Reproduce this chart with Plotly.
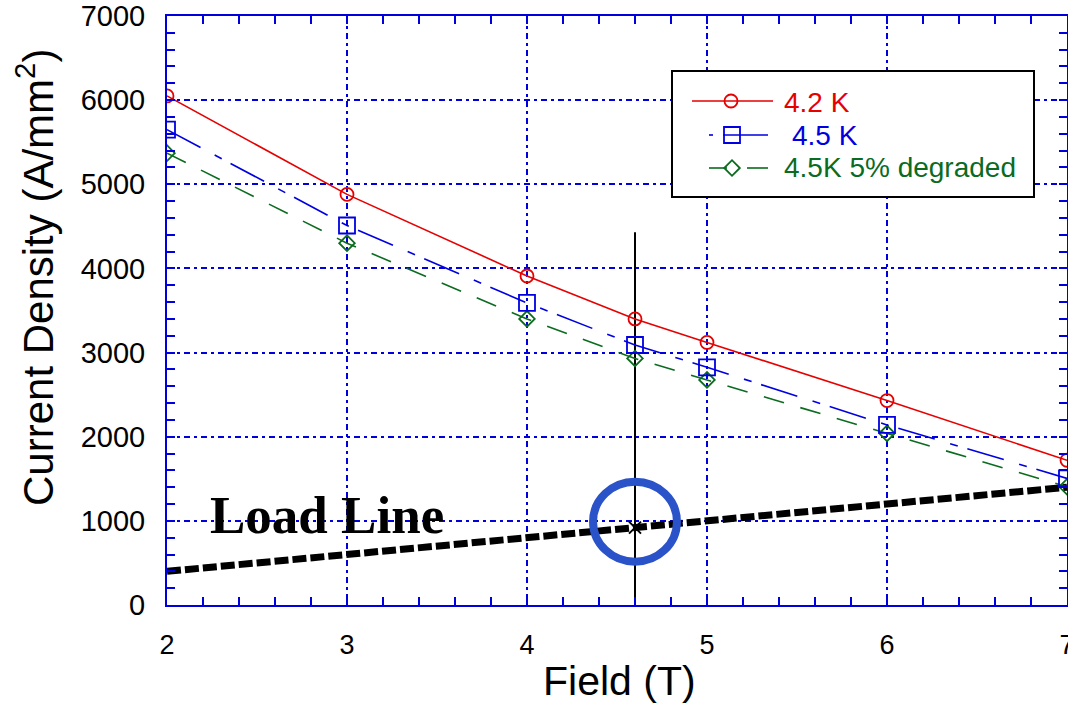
import plotly.graph_objects as go

W, H = 1068, 706

# Critical current density vs field for the conductor
field = [2, 3, 4, 4.6, 5, 6, 7]
jc_42k = [6050, 4880, 3910, 3400, 3120, 2430, 1720]
jc_45k = [5650, 4510, 3590, 3090, 2825, 2140, 1505]
jc_45k_degraded = [5370, 4300, 3400, 2930, 2675, 2040, 1405]

# Magnet load line and operating point
load_field = [2, 3, 4, 5, 6, 7]
load_jc = [400, 600, 800, 1000, 1200, 1400]
op_field = 4.6
op_jc = 920
op_marker_top = 4430

x_ticks = [2, 3, 4, 5, 6, 7]
y_ticks = [0, 1000, 2000, 3000, 4000, 5000, 6000, 7000]

series_names = ["4.2 K", "4.5 K", "4.5K 5% degraded"]
RED = "#e60000"
BLUE = "#0000e0"
GREEN = "#0b6b1f"
AXIS_BLUE = "#0000dd"
RING_BLUE = "#2a52c9"
SANS = "Liberation Sans, Arial, sans-serif"

# plot-area placement in pixels
PX_L, PX_R, PX_T, PX_B = 167, 1067, 16, 605


def px(x):
    return x / W


def py(y):
    return 1 - y / H


fig = go.Figure()

# load line
fig.add_trace(go.Scatter(
    x=load_field, y=load_jc, mode="lines",
    line=dict(color="black", width=7, dash="14px,4px"),
    xaxis="x", yaxis="y", hoverinfo="skip"))

# vertical marker through the operating field
fig.add_trace(go.Scatter(
    x=[op_field, op_field], y=[0, op_marker_top], mode="lines",
    line=dict(color="black", width=2),
    xaxis="x", yaxis="y", hoverinfo="skip"))

fig.add_trace(go.Scatter(
    x=field, y=jc_45k_degraded, mode="lines+markers", name=series_names[2],
    line=dict(color=GREEN, width=1.6, dash="21px,17px"),
    marker=dict(symbol="diamond-open", size=12, color=GREEN,
                line=dict(width=1.8, color=GREEN))))

fig.add_trace(go.Scatter(
    x=field, y=jc_45k, mode="lines+markers", name=series_names[1],
    line=dict(color=BLUE, width=1.6, dash="38px,16px,8px,10px"),
    marker=dict(symbol="square-open", size=16, color=BLUE,
                line=dict(width=1.8, color=BLUE))))

fig.add_trace(go.Scatter(
    x=field, y=jc_42k, mode="lines+markers", name=series_names[0],
    line=dict(color=RED, width=1.6),
    marker=dict(symbol="circle-open", size=13, color=RED,
                line=dict(width=1.8, color=RED))))

# operating point cross
fig.add_trace(go.Scatter(
    x=[op_field], y=[op_jc], mode="markers",
    marker=dict(symbol="x-thin-open", size=12, color="black",
                line=dict(width=2, color="black")),
    hoverinfo="skip"))

# key samples drawn on a pixel overlay
fig.add_trace(go.Scatter(
    x=[692, 773], y=[101, 101], mode="lines",
    line=dict(color=RED, width=1.6), xaxis="x2", yaxis="y2", hoverinfo="skip"))
fig.add_trace(go.Scatter(
    x=[731], y=[101], mode="markers",
    marker=dict(symbol="circle-open", size=13, color=RED, line=dict(width=1.8, color=RED)),
    xaxis="x2", yaxis="y2", hoverinfo="skip"))
fig.add_trace(go.Scatter(
    x=[709, 713, None, 723, 768], y=[135, 135, None, 135, 135], mode="lines",
    line=dict(color=BLUE, width=1.6), xaxis="x2", yaxis="y2", hoverinfo="skip"))
fig.add_trace(go.Scatter(
    x=[732], y=[135], mode="markers",
    marker=dict(symbol="square-open", size=16, color=BLUE, line=dict(width=1.8, color=BLUE)),
    xaxis="x2", yaxis="y2", hoverinfo="skip"))
fig.add_trace(go.Scatter(
    x=[709, 727, None, 747, 768], y=[168, 168, None, 168, 168], mode="lines",
    line=dict(color=GREEN, width=1.6), xaxis="x2", yaxis="y2", hoverinfo="skip"))
fig.add_trace(go.Scatter(
    x=[732], y=[168], mode="markers",
    marker=dict(symbol="diamond-open", size=12, color=GREEN, line=dict(width=1.8, color=GREEN)),
    xaxis="x2", yaxis="y2", hoverinfo="skip"))

axis_common = dict(
    showgrid=True, gridcolor=AXIS_BLUE, gridwidth=1.5, griddash="6px,4px,3px,4px",
    showline=True, linecolor=AXIS_BLUE, linewidth=2, mirror="ticks",
    ticks="inside", ticklen=8, tickwidth=1.5, tickcolor=AXIS_BLUE,
    ticklabeloverflow="allow",
    zeroline=False, fixedrange=True,
)

fig.update_layout(
    width=W, height=H,
    margin=dict(l=0, r=0, t=0, b=0),
    paper_bgcolor="white", plot_bgcolor="rgba(0,0,0,0)",
    template="none",
    showlegend=False,
    font=dict(family=SANS, color="black"),
    xaxis=dict(
        axis_common, range=[2, 7], domain=[px(PX_L), px(PX_R)],
        tickvals=x_ticks, ticktext=[str(v) for v in x_ticks],
        tickfont=dict(family=SANS, size=27, color="black"),
        ticklabelstandoff=15,
        minor=dict(dtick=0.2, ticks="inside", ticklen=8, tickwidth=1.5,
                   tickcolor=AXIS_BLUE, showgrid=False),
        anchor="y",
    ),
    yaxis=dict(
        axis_common, range=[0, 7000], domain=[py(PX_B), py(PX_T)],
        tickvals=y_ticks, ticktext=[str(v) for v in y_ticks],
        tickfont=dict(family=SANS, size=29, color="black"),
        ticklabelstandoff=14,
        minor=dict(dtick=200, ticks="inside", ticklen=8, tickwidth=1.5,
                   tickcolor=AXIS_BLUE, showgrid=False),
        anchor="x",
    ),
    xaxis2=dict(range=[0, W], domain=[0, 1], visible=False, anchor="y2", fixedrange=True),
    yaxis2=dict(range=[H, 0], domain=[0, 1], visible=False, anchor="x2", fixedrange=True),
)

shapes = [
    # ring around the operating point
    dict(type="circle", xref="x", yref="y",
         x0=op_field - 0.233, x1=op_field + 0.233,
         y0=op_jc + 70 - 475, y1=op_jc + 70 + 475,
         line=dict(color=RING_BLUE, width=8)),
    # key box, filled white over the grid
    dict(type="rect", xref="x2", yref="y2",
         x0=672, x1=1034, y0=71, y1=197,
         line=dict(color="black", width=2), fillcolor="white", layer="between"),
]
fig.update_layout(shapes=shapes)

annotations = [
    dict(text="Load Line", x=px(327), y=py(515), xref="paper", yref="paper",
         showarrow=False, xanchor="center", yanchor="middle",
         font=dict(family="Liberation Serif, Times New Roman, serif", size=53,
                   color="black", weight="bold")),
    dict(text="Current Density (A/mm<sup>2</sup>)", x=px(35), y=py(278),
         xref="paper", yref="paper", showarrow=False, textangle=-90,
         xanchor="center", yanchor="middle",
         font=dict(family=SANS, size=42, color="black")),
    dict(text="Field (T)", x=px(619), y=py(681), xref="paper", yref="paper",
         showarrow=False, xanchor="center", yanchor="middle",
         font=dict(family=SANS, size=41, color="black")),
    dict(text=series_names[0], x=px(782), y=py(102.5), xref="paper", yref="paper",
         showarrow=False, xanchor="left", yanchor="middle",
         font=dict(family=SANS, size=28, color=RED)),
    dict(text=series_names[1], x=px(790), y=py(136), xref="paper", yref="paper",
         showarrow=False, xanchor="left", yanchor="middle",
         font=dict(family=SANS, size=28, color=BLUE)),
    dict(text=series_names[2], x=px(782), y=py(167), xref="paper", yref="paper",
         showarrow=False, xanchor="left", yanchor="middle",
         font=dict(family=SANS, size=28, color=GREEN)),
]
fig.update_layout(annotations=annotations)

fig.write_html("out.html")
